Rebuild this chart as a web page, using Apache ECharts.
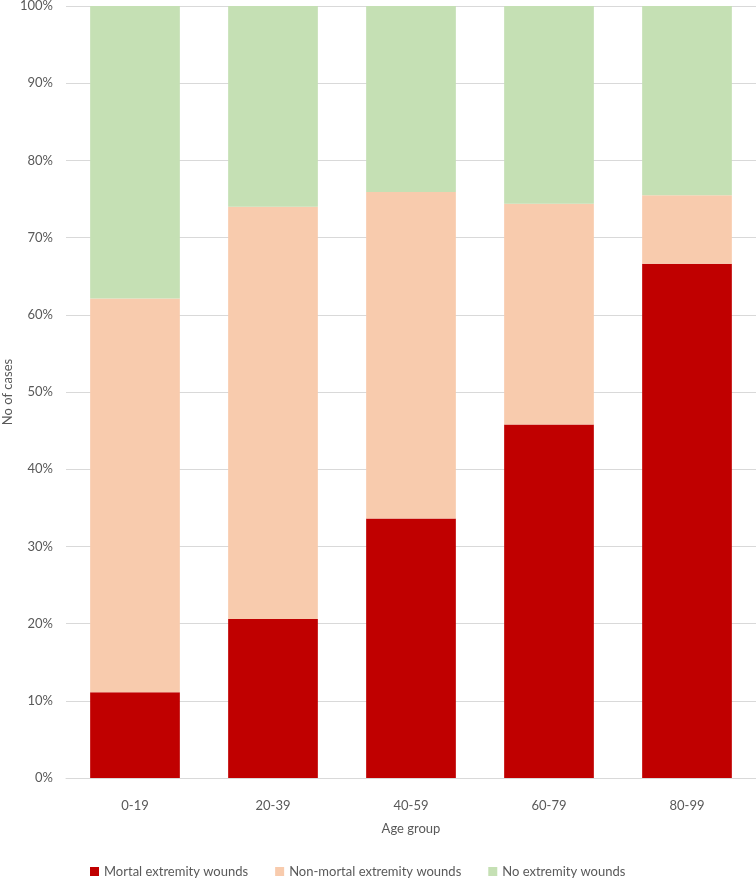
<!DOCTYPE html>
<html>
<head>
<meta charset="utf-8">
<script src="https://cdn.jsdelivr.net/npm/echarts@6/dist/echarts.min.js"></script>
<style>
  html, body { margin: 0; padding: 0; background: #fff; }
  #main { width: 756px; height: 884px; }
</style>
</head>
<body>
<div id="main"></div>
<script>
// age groups on the x axis
let ageGroups = ['0-19', '20-39', '40-59', '60-79', '80-99'];

// share of cases per group, in percent
let mortal = [11.1, 20.6, 33.6, 45.8, 66.6];
let nonMortal = [51.0, 53.4, 42.3, 28.6, 8.9];
let noWounds = [37.9, 26.0, 24.1, 25.6, 24.5];

let seriesNames = ['Mortal extremity wounds', 'Non-mortal extremity wounds', 'No extremity wounds'];
let seriesColors = ['#C00000', '#F8CBAD', '#C5E0B4'];

let font = 'Lato, "Open Sans", sans-serif';
let textColor = '#595959';

let chart = echarts.init(document.getElementById('main'));

function barSeries(i, data) {
  return {
    name: seriesNames[i],
    type: 'bar',
    stack: 'total',
    barWidth: '65%',
    data: data,
    itemStyle: { color: seriesColors[i] }
  };
}

let option = {
  animation: false,
  textStyle: { fontFamily: font },
  grid: { left: 66, right: 0, top: 6, bottom: 106, outerBoundsMode: 'none' },
  legend: {
    bottom: 1,
    left: 85,
    itemWidth: 9,
    itemHeight: 9,
    itemGap: 27,
    icon: 'rect',
    textStyle: { color: textColor, fontSize: 13, fontFamily: font },
    data: seriesNames
  },
  xAxis: {
    type: 'category',
    data: ageGroups,
    name: 'Age group',
    nameLocation: 'middle',
    nameGap: 44,
    nameMoveOverlap: false,
    nameTextStyle: { color: textColor, fontSize: 13 },
    axisLine: { lineStyle: { color: '#d9d9d9' } },
    axisTick: { show: false },
    axisLabel: { color: textColor, fontSize: 13, margin: 21 }
  },
  yAxis: {
    type: 'value',
    min: 0,
    max: 100,
    interval: 10,
    name: 'No of cases',
    nameLocation: 'middle',
    nameGap: 52,
    nameMoveOverlap: false,
    nameTextStyle: { color: textColor, fontSize: 13 },
    axisLine: { show: false },
    axisTick: { show: false },
    axisLabel: { color: textColor, fontSize: 13, margin: 13, formatter: '{value}%' },
    splitLine: { lineStyle: { color: '#d9d9d9', width: 1 } }
  },
  series: [
    barSeries(0, mortal),
    barSeries(1, nonMortal),
    barSeries(2, noWounds)
  ]
};

chart.setOption(option);
</script>
</body>
</html>
